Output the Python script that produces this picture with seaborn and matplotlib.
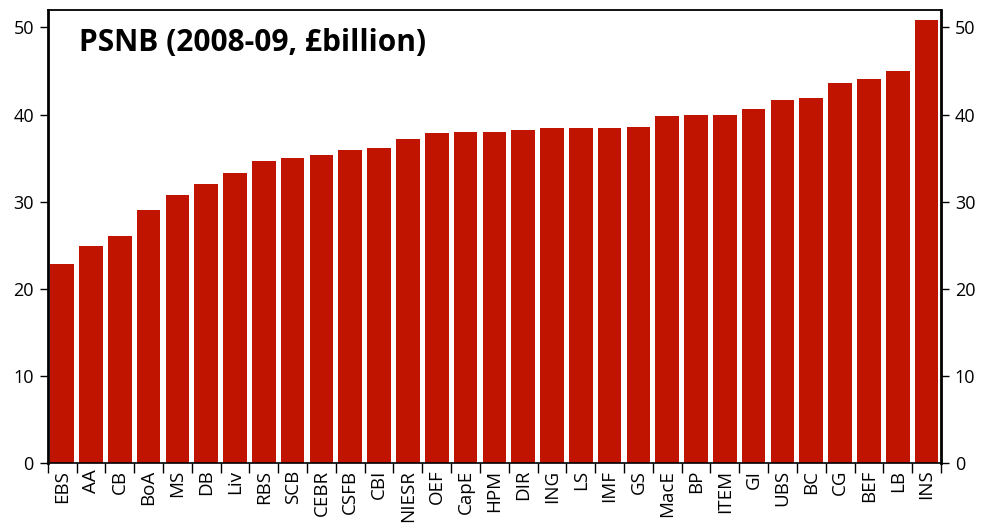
import matplotlib
matplotlib.use("Agg")
import matplotlib.pyplot as plt
import seaborn as sns
import pandas as pd
import numpy as np

categories = ["EBS", "AA", "CB", "BoA", "MS", "DB", "Liv", "RBS", "SCB", "CEBR",
              "CSFB", "CBI", "NIESR", "OEF", "CapE", "HPM", "DIR", "ING", "LS", "IMF",
              "GS", "MacE", "BP", "ITEM", "GI", "UBS", "BC", "CG", "BEF", "LB", "INS"]
values = [22.8, 24.9, 26.0, 29.0, 30.8, 32.0, 33.3, 34.7, 35.0, 35.4,
          35.9, 36.1, 37.2, 37.9, 38.0, 38.0, 38.2, 38.4, 38.4, 38.4,
          38.6, 39.8, 40.0, 40.0, 40.6, 41.7, 41.9, 43.6, 44.1, 45.0, 50.9]
yticks = [0, 10, 20, 30, 40, 50]
title = "PSNB (2008-09, £billion)"

sns.set_theme(style="white")
plt.rcParams['font.family'] = ['Open Sans', 'DejaVu Sans']

df = pd.DataFrame({"cat": categories, "val": values})

fig = plt.figure(figsize=(9.82, 5.30), dpi=100)
ax = fig.add_axes([0.0486, 0.127, 0.9096, 0.854])
sns.barplot(data=df, x="cat", y="val", color="#C11400", saturation=1,
            width=0.82, ax=ax, order=categories, linewidth=0, edgecolor="none")

n = len(categories)
ax.set_xlim(-0.5, n - 0.5)
ax.set_ylim(0, 52)
ax.set_xlabel("")
ax.set_ylabel("")

# ticks at boundaries, labels at bar centres
ax.set_xticks(np.arange(n + 1) - 0.5)
ax.set_xticklabels([])
ax.set_xticks(np.arange(n), minor=True)
ax.set_xticklabels(categories, minor=True, rotation=90, fontsize=13.5, color="black")
ax.tick_params(axis="x", which="major", direction="out", length=7, width=1, color="black", bottom=True)
ax.tick_params(axis="x", which="minor", length=0, pad=5)

ax.set_yticks(yticks)
ax.set_yticklabels([str(t) for t in yticks])
ax.tick_params(axis="y", which="major", direction="out", length=6, width=1, color="black",
               left=True, right=True, labelleft=True, labelright=True, labelsize=13,
               labelcolor="black", pad=4)

for s in ["left", "right", "bottom", "top"]:
    ax.spines[s].set_visible(True)
    ax.spines[s].set_color("black")
ax.spines["left"].set_linewidth(2)
ax.spines["right"].set_linewidth(2)
ax.spines["bottom"].set_linewidth(1.2)
ax.spines["top"].set_linewidth(1.3)

ax.text(0.035, 0.928, title, transform=ax.transAxes, fontsize=21.5, fontweight="bold",
        ha="left", va="center", color="black")

fig.savefig("out.png", dpi=100)
